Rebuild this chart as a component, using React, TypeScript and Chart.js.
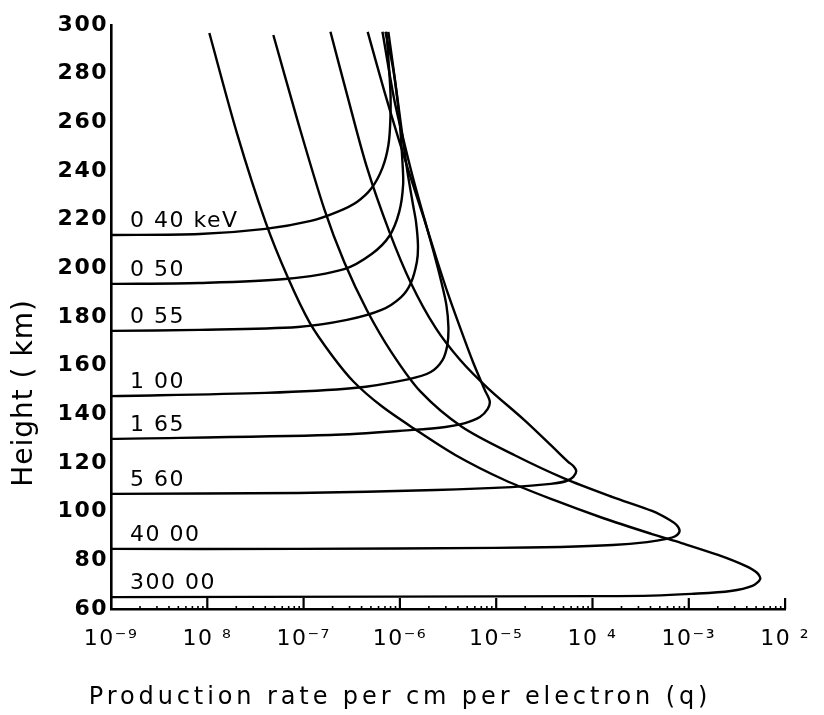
import React, { useEffect, useRef } from "react";
import { Chart, registerables } from "chart.js";

Chart.register(...registerables);

// ---- axis ticks ----
const xTickValues = [1e-9, 1e-8, 1e-7, 1e-6, 1e-5, 1e-4, 1e-3, 1e-2];
const xTickLabels = ["10⁻⁹", "10 ⁸", "10⁻⁷", "10⁻⁶", "10⁻⁵", "10 ⁴", "10⁻³", "10 ²"];
const yTickValues = [60, 80, 100, 120, 140, 160, 180, 200, 220, 240, 260, 280, 300];

const xTitle = "Production rate per cm per electron (q)";
const yTitle = "Height ( km)";

// ---- curve labels (energy) ----
const energyLabels = ["0 40 keV", "0 50", "0 55", "1 00", "1 65", "5 60", "40 00", "300 00"];

// ---- series: production rate q (per cm per electron) vs height (km) ----
const q040 = [1e-9, 8.3e-9, 4.02e-8, 1.19e-7, 2.24e-7, 3.58e-7, 5.09e-7, 6.59e-7, 7.6e-7, 7.96e-7, 7.96e-7, 7.25e-7];
const h040 = [213.7, 214.1, 216.2, 219.5, 223.2, 227.3, 233.0, 241.3, 250.7, 261.0, 273.3, 297.2];

const q050 = [1e-9, 8.3e-9, 6.43e-8, 2.64e-7, 5.09e-7, 7.78e-7, 9.84e-7, 1.08e-6, 1.06e-6, 9.84e-7, 8.55e-7, 7.08e-7];
const h050 = [193.6, 194.0, 195.6, 199.7, 205.9, 213.3, 223.2, 234.3, 244.5, 262.2, 281.5, 297.2];

const q055 = [1e-9, 8.3e-9, 8.73e-8, 2.82e-7, 6.44e-7, 1.03e-6, 1.3e-6, 1.5e-6, 1.54e-6, 1.47e-6, 1.37e-6, 1.19e-6, 1.01e-6, 8.75e-7, 7.59e-7];
const h055 = [174.3, 174.7, 175.9, 178.8, 182.9, 188.2, 194.0, 202.6, 209.6, 219.1, 226.0, 240.4, 261.0, 279.5, 297.2];

const q100 = [1e-9, 4.02e-8, 3.33e-7, 1.245e-6, 2.09e-6, 2.77e-6, 3.11e-6, 3.19e-6, 3.04e-6, 2.71e-6, 2.24e-6, 1.81e-6, 1.43e-6, 1.13e-6, 8.75e-7, 6.59e-7];
const h100 = [147.5, 148.8, 150.8, 154.5, 157.4, 162.3, 168.5, 175.9, 184.9, 194.0, 206.7, 219.9, 234.3, 250.3, 269.2, 297.2];

const q165 = [1e-9, 1.9e-7, 1.37e-6, 2.97e-6, 4.75e-6, 6.77e-6, 8.17e-6, 8.56e-6, 7.61e-6, 5.74e-6, 4.23e-6, 3.11e-6, 2.35e-6, 1.77e-6, 1.3e-6, 9.61e-7, 6.92e-7, 4.63e-7];
const h165 = [129.9, 131.5, 133.6, 134.8, 136.4, 138.9, 142.2, 145.5, 150.0, 161.5, 175.5, 190.3, 205.1, 220.7, 237.1, 253.6, 272.5, 297.2];

const q560 = [1e-9, 8.73e-8, 2.35e-6, 1.44e-5, 3.68e-5, 5.36e-5, 6.32e-5, 6.78e-5, 6.32e-5, 5.62e-5, 3.95e-5, 1.95e-5, 8.17e-6, 4.23e-6, 2.35e-6, 1.3e-6, 7.78e-7, 4.53e-7, 2.83e-7, 1.9e-7];
const h560 = [107.3, 107.7, 108.9, 110.1, 111.4, 112.6, 114.3, 116.7, 118.8, 120.4, 126.2, 137.7, 150.8, 162.3, 175.5, 194.0, 215.0, 241.7, 271.3, 297.2];

const q4000 = [1e-9, 8.73e-8, 9.63e-6, 4.66e-5, 1.62e-4, 3.69e-4, 5.9e-4, 7.3e-4, 8.02e-4, 7.47e-4, 6.34e-4, 4.15e-4, 1.62e-4, 5.0e-5, 1.54e-5, 4.43e-6, 1.65e-6, 8.15e-7, 4.53e-7, 2.64e-7, 1.65e-7, 8.73e-8, 4.85e-8];
const h4000 = [84.7, 84.7, 85.1, 85.5, 86.3, 87.5, 88.8, 90.0, 92.1, 94.5, 96.6, 100.3, 106.0, 113.8, 123.3, 134.8, 149.2, 165.6, 182.9, 202.6, 224.0, 260.2, 295.9];

const q30000 = [1e-9, 9.17e-7, 1.01e-4, 4.15e-4, 1.06e-3, 2.72e-3, 4.57e-3, 5.51e-3, 5.14e-3, 3.88e-3, 2.01e-3, 8.4e-4, 4.15e-4, 1.28e-4, 3.95e-5, 1.22e-5, 3.76e-6, 1.37e-6, 6.44e-7, 3.33e-7, 1.99e-7, 1.16e-7, 6.9e-8, 4.02e-8, 2.03e-8, 1.05e-8];
const h30000 = [64.9, 65.1, 65.3, 65.5, 66.2, 67.4, 69.5, 72.3, 74.8, 77.7, 82.2, 87.1, 90.8, 97.4, 104.8, 113.0, 123.3, 134.4, 143.4, 153.3, 164.0, 177.6, 196.0, 219.1, 255.6, 296.7];

const seriesQ = [q040, q050, q055, q100, q165, q560, q4000, q30000];
const seriesH = [h040, h050, h055, h100, h165, h560, h4000, h30000];

const FONT = '"DejaVu Sans", sans-serif';

const extrasPlugin = {
  id: "extras",
  beforeDraw(chart: any) {
    (chart.ctx as any).letterSpacing = "1.5px";
  },
  afterDraw(chart: any) {
    const { ctx, chartArea, scales } = chart;
    const xs = scales.x;
    const ys = scales.y;
    ctx.save();
    ctx.strokeStyle = "#000";
    ctx.lineCap = "butt";
    // inward major ticks on x axis
    ctx.lineWidth = 2.2;
    for (const v of xTickValues.slice(1)) {
      const px = xs.getPixelForValue(v);
      ctx.beginPath();
      ctx.moveTo(px, chartArea.bottom);
      ctx.lineTo(px, chartArea.bottom - 11);
      ctx.stroke();
    }
    // inward minor ticks
    ctx.lineWidth = 1.6;
    for (let e = -9; e < -2; e++) {
      for (let m = 2; m <= 9; m++) {
        const px = xs.getPixelForValue(m * Math.pow(10, e));
        ctx.beginPath();
        ctx.moveTo(px, chartArea.bottom);
        ctx.lineTo(px, chartArea.bottom - 3);
        ctx.stroke();
      }
    }
    // energy labels above each curve's low-altitude branch
    ctx.fillStyle = "#000";
    ctx.font = `22px ${FONT}`;
    (ctx as any).letterSpacing = "1.5px";
    ctx.textAlign = "left";
    ctx.textBaseline = "alphabetic";
    energyLabels.forEach((lab, i) => {
      const py = ys.getPixelForValue(seriesH[i][0]);
      ctx.fillText(lab, chartArea.left + 19, py - 8);
    });
    // x title
    ctx.font = `24px ${FONT}`;
    (ctx as any).letterSpacing = "3.9px";
    ctx.textAlign = "center";
    ctx.textBaseline = "middle";
    ctx.fillText(xTitle, chartArea.left + chartArea.width / 2 - 48, chartArea.bottom + 89);
    // y title
    ctx.font = `28px ${FONT}`;
    (ctx as any).letterSpacing = "1px";
    ctx.translate(chartArea.left - 86, chartArea.top + 368);
    ctx.rotate(-Math.PI / 2);
    ctx.fillText(yTitle, 0, 0);
    ctx.restore();
  },
};

export default function App() {
  const ref = useRef<HTMLCanvasElement | null>(null);

  useEffect(() => {
    if (!ref.current) return;
    const datasets = seriesQ.map((qs, i) => ({
      label: energyLabels[i],
      data: qs.map((q, j) => ({ x: q, y: seriesH[i][j] })),
      borderColor: "#000",
      borderWidth: 2.4,
      pointRadius: 0,
      tension: 0.3,
      fill: false,
    }));
    const chart = new Chart(ref.current, {
      type: "line",
      data: { datasets },
      options: {
        animation: false,
        responsive: false,
        devicePixelRatio: 1,
        layout: { padding: { top: 25, right: 29, bottom: 0, left: 0 } },
        plugins: { legend: { display: false }, tooltip: { enabled: false } },
        scales: {
          x: {
            type: "logarithmic",
            min: 1e-9,
            max: 1e-2,
            afterBuildTicks: (s: any) => {
              s.ticks = xTickValues.map((v) => ({ value: v }));
            },
            afterFit: (s: any) => {
              s.height = 106;
            },
            grid: { display: false, drawTicks: false },
            border: { display: true, color: "#000", width: 2.6 },
            ticks: {
              autoSkip: false,
              maxRotation: 0,
              color: "#000",
              padding: 17,
              font: { family: FONT, size: 22 },
              callback: (v: any) => {
                const idx = xTickValues.findIndex((t) => Math.abs(Math.log10(t) - Math.log10(v)) < 1e-6);
                return idx >= 0 ? xTickLabels[idx] : "";
              },
            },
          },
          y: {
            type: "linear",
            min: 60,
            max: 300,
            afterBuildTicks: (s: any) => {
              s.ticks = yTickValues.map((v) => ({ value: v }));
            },
            afterFit: (s: any) => {
              s.width = 111;
            },
            grid: { display: false, drawTicks: false },
            border: { display: true, color: "#000", width: 2.6 },
            ticks: {
              color: "#000",
              padding: 3,
              font: { family: FONT, size: 22, weight: "bold" },
            },
          },
        },
      },
      plugins: [extrasPlugin],
    } as any);
    return () => chart.destroy();
  }, []);

  return (
    <div style={{ position: "fixed", left: 0, top: 0, width: 824, height: 715, background: "#fff" }}>
      <canvas ref={ref} width={824} height={715} style={{ display: "block", width: 824, height: 715 }} />
    </div>
  );
}
